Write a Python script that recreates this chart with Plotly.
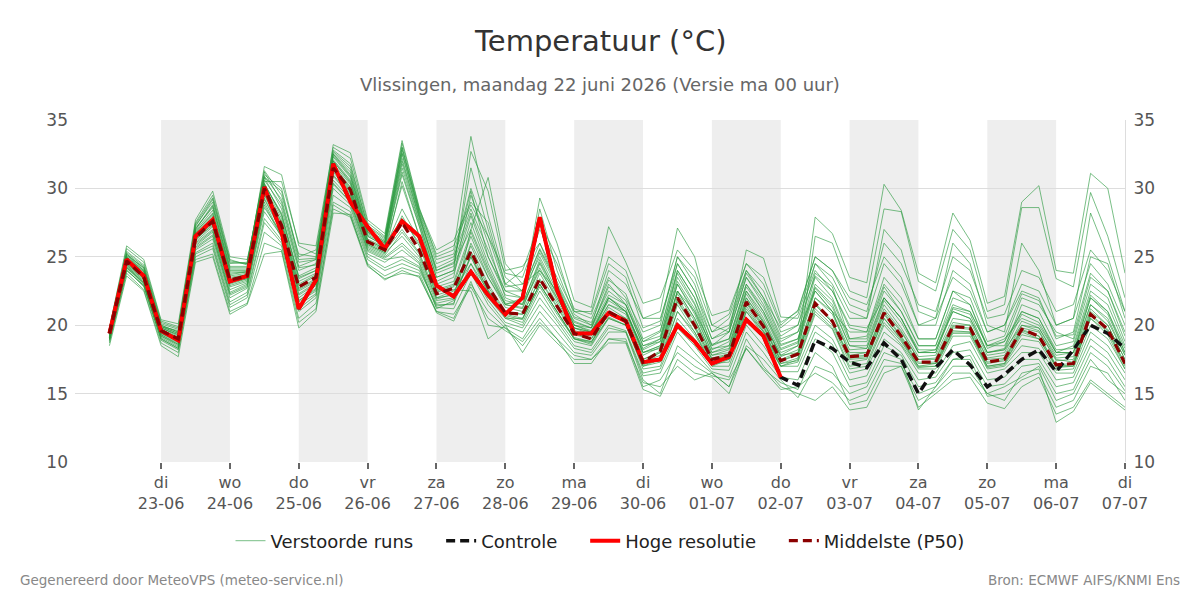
import pandas as pd
import plotly.graph_objects as go

# ---------------- data ----------------
times = pd.date_range("2026-06-22 06:00", "2026-07-07 00:00", freq="6h")  # 60 steps

hres = [19.4, 24.8, 23.6, 19.6, 18.9, 26.5, 27.7, 23.2, 23.6, 30.1,
        26.8, 21.2, 23.3, 31.8, 29.0, 27.2, 25.6, 27.6, 26.5, 22.9,
        22.1, 23.9, 22.2, 20.8, 22.0, 27.9, 22.6, 19.4, 19.4, 20.9,
        20.3, 17.3, 17.5, 20.0, 18.8, 17.2, 17.7, 20.4, 19.2, 16.2]

control = [19.4, 24.8, 23.6, 19.6, 18.9, 26.5, 27.7, 23.2, 23.6, 30.1,
           26.8, 21.2, 23.3, 31.8, 29.0, 27.2, 25.6, 27.6, 26.5, 22.9,
           22.1, 23.9, 22.2, 20.8, 22.0, 27.9, 22.6, 19.4, 19.4, 20.9,
           20.3, 17.3, 17.5, 20.0, 18.8, 17.2, 17.7, 20.4, 19.2, 16.2,
           15.6, 18.9, 18.3, 17.3, 16.9, 18.7, 17.5, 15.0, 16.9, 18.2,
           17.1, 15.5, 16.4, 17.5, 18.2, 16.6, 18.2, 20.0, 19.4, 18.3]

p50 = [19.4, 24.7, 23.5, 19.6, 19.0, 26.4, 27.6, 23.3, 23.6, 30.0,
       27.3, 22.8, 23.5, 31.5, 29.9, 26.1, 25.5, 27.5, 25.5, 22.3,
       22.7, 25.4, 22.8, 20.9, 20.8, 23.4, 21.4, 19.4, 19.0, 21.0,
       20.3, 17.3, 18.1, 22.0, 20.0, 17.5, 17.8, 21.7, 19.9, 17.4,
       17.9, 21.6, 20.3, 17.7, 17.8, 20.9, 19.2, 17.3, 17.3, 19.9,
       19.8, 17.3, 17.5, 19.7, 19.2, 17.1, 17.2, 20.8, 19.7, 17.2]

m01 = [19.6, 25.2, 24.1, 19.9, 19.4, 27.0, 28.8, 24.2, 24.2, 31.6, 31.0, 25.8, 25.2,
       32.5, 31.0, 26.8, 26.0, 32.5, 28.0, 24.0, 24.5,
       27.0, 24.0, 21.5, 21.2, 24.5, 22.0, 19.8, 19.5, 22.0, 21.0, 18.0,
       18.5, 23.0, 21.0, 18.0, 18.5, 22.5, 20.5, 18.0, 18.5, 27.9, 26.7,
       23.5, 23.1, 30.3, 28.4, 23.8, 23.1, 28.2, 26.2, 21.6, 22.1,
       29.0, 30.2, 24.0, 23.8, 31.1, 30.0, 23.8]
m02 = [19.1, 24.3, 23.0, 19.3, 18.6, 25.8, 26.8, 22.4, 23.0, 29.0, 26.5, 21.8, 22.6,
       31.0, 29.5, 25.8, 25.2, 30.5, 26.5, 22.0, 22.5,
       24.5, 22.5, 20.5, 20.5, 23.0, 21.0, 19.0, 18.8, 20.5, 20.0, 17.0,
       17.5, 21.5, 19.5, 17.0, 17.5, 21.0, 19.5, 17.0, 17.5, 26.5, 26.0,
       22.5, 22.0, 28.5, 28.3, 23.2, 22.5, 27.0, 25.5, 21.0, 21.5,
       28.6, 28.6, 23.4, 22.8, 29.7, 26.5, 22.0]
m03 = [19.8, 25.6, 24.6, 20.3, 19.9, 27.5, 29.5, 24.8, 24.4, 30.8, 29.8, 24.8, 24.9,
       33.2, 32.6, 27.7, 26.7, 33.5, 28.6, 25.0, 25.5,
       33.8, 28.0, 23.5, 22.5, 25.5, 23.0, 20.5, 20.0, 22.5, 21.5, 18.5,
       19.0, 24.0, 22.0, 18.5, 19.0, 23.0, 21.0, 18.5, 19.0, 23.5, 22.0,
       19.0, 19.0, 22.5, 21.0, 18.5, 18.5, 21.5, 21.0, 18.5, 18.8,
       21.0, 20.5, 18.0, 18.5, 22.5, 21.5, 18.5]
m04 = [18.8, 24.0, 22.9, 18.9, 18.2, 25.2, 25.8, 21.5, 22.2, 27.5, 26.0, 21.0, 22.0,
       29.0, 28.3, 24.8, 24.0, 24.5, 24.0, 21.5, 21.5,
       27.0, 30.8, 24.5, 23.0, 24.0, 22.5, 20.0, 19.5, 21.5, 21.0, 18.0,
       18.5, 22.5, 20.5, 17.8, 18.0, 22.0, 20.2, 17.8, 18.0, 22.0, 21.0,
       17.8, 18.0, 21.0, 19.5, 17.5, 17.5, 20.0, 20.0, 17.5, 17.6,
       19.8, 19.5, 17.5, 17.3, 21.0, 20.0, 17.5]
m05 = [19.5, 24.9, 23.8, 19.8, 19.3, 26.8, 28.2, 23.9, 23.9, 30.4, 28.0, 23.5, 24.0,
       32.0, 30.5, 26.5, 25.8, 31.5, 27.5, 23.5, 24.0,
       32.7, 29.8, 24.0, 24.3, 26.0, 23.5, 21.0, 20.5, 23.5, 22.0, 19.5,
       20.0, 25.0, 23.0, 19.5, 20.0, 24.0, 22.5, 19.5, 20.0, 24.5, 23.5,
       21.0, 20.5, 27.0, 25.5, 21.0, 20.5, 26.0, 24.5, 20.0, 19.5,
       26.0, 24.0, 20.0, 20.5, 28.2, 25.0, 21.0]
m06 = [19.2, 24.5, 23.3, 19.4, 18.8, 26.1, 27.2, 22.9, 23.3, 29.5, 27.0, 22.3, 23.1,
       31.2, 29.6, 25.9, 25.3, 26.5, 25.0, 22.0, 22.2,
       26.0, 23.5, 21.5, 22.0, 29.3, 26.0, 21.8, 21.3, 27.2, 24.6, 21.6,
       22.0, 25.5, 24.0, 20.7, 21.1, 24.5, 23.0, 20.0, 21.1, 25.0, 24.0,
       22.0, 21.5, 25.0, 23.5, 20.0, 20.5, 23.5, 22.5, 19.5, 20.0,
       22.5, 22.0, 19.0, 19.5, 25.0, 24.5, 20.5]
m07 = [19.7, 25.3, 24.3, 20.1, 19.7, 27.3, 29.0, 24.5, 24.6, 31.0, 30.0, 25.0, 25.5,
       32.8, 31.8, 27.2, 26.3, 33.0, 28.2, 24.5, 25.0,
       28.5, 25.5, 22.5, 22.0, 28.5, 24.0, 20.8, 20.0, 24.0, 23.0, 20.5,
       21.0, 27.1, 25.0, 20.0, 19.5, 23.5, 21.5, 18.8, 19.5, 22.5, 21.0,
       19.5, 19.5, 23.5, 22.0, 19.0, 19.0, 22.5, 21.5, 18.5, 19.0,
       20.5, 20.0, 18.0, 18.0, 22.0, 21.0, 18.0]
m08 = [19.0, 24.2, 23.0, 19.1, 18.4, 25.5, 26.3, 22.0, 22.7, 28.3, 26.5, 21.5, 22.3,
       30.0, 28.8, 25.2, 24.6, 25.5, 24.5, 21.2, 21.8,
       25.2, 22.5, 20.8, 20.5, 23.0, 21.0, 19.0, 18.7, 21.0, 20.5, 17.5,
       18.0, 22.5, 21.0, 18.5, 19.5, 25.5, 24.9, 20.6, 20.5, 24.0, 22.5,
       20.0, 19.8, 22.0, 20.5, 18.0, 18.2, 21.0, 20.5, 18.0, 18.2,
       20.0, 19.8, 17.8, 18.0, 21.5, 20.5, 17.8]
m09 = [18.9, 24.1, 22.8, 19.0, 18.3, 25.0, 25.6, 21.3, 22.0, 26.8, 25.8, 20.5, 21.6,
       28.5, 27.9, 24.3, 23.4, 23.8, 23.6, 20.9, 20.3,
       23.0, 21.0, 19.8, 19.0, 21.0, 19.5, 18.0, 17.8, 19.5, 19.5, 16.0,
       15.0, 18.5, 17.5, 16.5, 15.5, 19.0, 17.0, 15.5, 15.0, 14.5, 15.5,
       13.8, 14.0, 16.5, 17.0, 14.0, 15.0, 16.0, 16.2, 14.3, 13.9,
       15.5, 16.2, 13.5, 14.0, 16.0, 15.0, 14.0]
m10 = [19.4, 24.8, 23.7, 19.7, 19.1, 26.6, 27.9, 23.6, 23.8, 30.2, 27.8, 23.2, 23.8,
       31.8, 30.3, 26.3, 25.7, 31.0, 27.2, 23.0, 23.5,
       29.5, 26.0, 22.0, 21.5, 24.0, 22.0, 19.8, 19.3, 22.0, 21.2, 18.0,
       18.3, 22.3, 20.3, 17.6, 17.9, 21.8, 20.0, 17.5, 18.0, 21.5, 20.2,
       17.5, 17.6, 20.5, 19.0, 17.0, 17.2, 19.5, 19.5, 17.0, 17.2,
       19.5, 19.0, 17.0, 17.0, 20.5, 19.5, 17.0]
m11 = [19.3, 24.6, 23.4, 19.5, 18.9, 26.2, 27.4, 23.1, 23.4, 29.7, 27.0, 22.5, 23.2,
       31.4, 29.8, 26.0, 25.4, 27.0, 25.3, 22.2, 22.6,
       22.5, 19.0, 20.0, 18.0, 20.0, 18.7, 17.5, 17.5, 18.7, 18.7, 15.3,
       14.8, 17.5, 16.5, 16.2, 15.0, 18.5, 17.5, 16.0, 14.7, 17.0, 16.5,
       15.0, 15.5, 18.0, 17.5, 13.8, 15.5, 17.0, 17.0, 15.0, 14.5,
       16.5, 16.8, 12.9, 13.7, 15.8, 14.8, 13.8]
m12 = [19.6, 25.0, 24.0, 20.0, 19.5, 27.1, 28.6, 24.1, 24.1, 30.8, 28.5, 24.0, 24.5,
       32.3, 30.8, 26.7, 26.0, 32.2, 27.8, 23.8, 24.3,
       31.5, 27.0, 23.0, 22.5, 25.0, 22.5, 20.3, 19.8, 22.2, 21.5, 18.5,
       18.8, 23.5, 21.5, 18.2, 18.8, 22.8, 21.0, 18.3, 18.8, 22.8, 21.5,
       18.5, 18.3, 21.8, 20.2, 18.0, 18.0, 21.0, 20.5, 18.0, 18.3,
       21.5, 21.0, 18.5, 18.8, 23.0, 22.0, 18.8]
m13 = [19.1, 24.4, 23.1, 19.2, 18.5, 25.7, 26.6, 22.2, 22.8, 28.6, 26.7, 21.8, 22.7,
       30.3, 29.0, 25.4, 24.8, 25.0, 24.3, 21.4, 21.6,
       24.5, 22.0, 20.5, 20.0, 22.5, 20.5, 18.8, 18.5, 20.5, 20.0, 16.8,
       17.0, 20.5, 19.0, 17.0, 17.0, 20.5, 19.0, 17.0, 17.0, 20.0, 19.0,
       16.5, 16.8, 19.5, 18.5, 16.5, 16.5, 18.5, 18.8, 16.5, 16.8,
       18.0, 18.0, 16.0, 16.2, 19.0, 18.0, 16.0]
m14 = [19.5, 25.1, 24.2, 19.9, 19.6, 27.2, 29.2, 24.6, 24.5, 31.2, 29.0, 24.3, 24.8,
       32.6, 31.4, 27.0, 26.2, 32.8, 28.3, 24.8, 25.2,
       30.0, 26.5, 22.8, 23.0, 26.0, 23.0, 20.0, 19.8, 23.0, 21.5, 18.8,
       19.5, 24.5, 22.5, 19.0, 19.5, 23.5, 21.8, 19.0, 19.5, 23.8, 22.8,
       19.0, 19.2, 22.8, 21.0, 18.5, 18.5, 22.0, 21.5, 18.3, 18.8,
       22.0, 21.5, 19.5, 19.0, 23.5, 22.5, 19.2]
m15 = [18.7, 23.8, 22.6, 18.7, 18.0, 24.8, 25.2, 21.0, 21.6, 26.0, 25.5, 20.2, 21.2,
       28.8, 28.0, 24.5, 23.6, 24.2, 23.8, 21.0, 20.8,
       22.8, 20.5, 19.6, 18.8, 20.5, 19.0, 17.8, 17.5, 19.0, 19.0, 15.5,
       16.0, 18.0, 17.0, 16.3, 16.0, 18.3, 16.7, 15.3, 15.5, 16.5, 15.8,
       14.5, 15.0, 17.5, 17.2, 15.0, 15.5, 17.5, 17.5, 14.8, 15.0,
       16.0, 16.5, 14.0, 14.5, 17.0, 16.5, 14.5]
m16 = [19.3, 24.7, 23.6, 19.6, 19.0, 26.5, 27.7, 23.4, 23.7, 30.1, 27.5, 22.9, 23.6,
       31.6, 30.0, 26.2, 25.6, 28.5, 26.2, 22.6, 23.0,
       26.5, 23.5, 21.3, 21.0, 23.8, 21.6, 19.5, 19.2, 21.3, 20.5, 17.5,
       18.1, 22.0, 20.0, 17.5, 17.8, 21.7, 19.9, 17.4, 17.9, 21.6, 20.3,
       17.7, 17.8, 20.9, 19.2, 17.3, 17.3, 19.9, 19.8, 17.3, 17.5,
       19.7, 19.2, 17.1, 17.2, 20.8, 19.7, 17.2]
m17 = [19.8, 25.8, 24.8, 20.4, 20.1, 27.7, 29.8, 25.0, 24.8, 30.5, 30.5, 26.0, 25.8,
       33.0, 32.2, 27.5, 26.5, 33.3, 28.5, 25.5, 26.2,
       29.0, 27.5, 23.0, 24.0, 27.5, 25.0, 21.0, 21.0, 25.0, 24.0, 20.5,
       20.5, 24.5, 22.5, 19.5, 20.5, 24.0, 22.0, 19.8, 20.8, 24.5, 23.0,
       20.5, 20.5, 24.5, 23.0, 20.0, 20.0, 24.0, 23.0, 19.5, 20.0,
       23.0, 22.5, 20.0, 20.5, 24.5, 23.0, 20.0]
m18 = [19.0, 24.3, 23.2, 19.3, 18.7, 25.9, 26.9, 22.6, 23.1, 29.2, 26.8, 22.0, 22.9,
       30.6, 29.2, 25.6, 25.0, 26.0, 24.8, 21.8, 22.0,
       25.0, 22.3, 20.6, 20.2, 22.8, 20.8, 19.0, 18.6, 20.6, 20.0, 17.0,
       17.3, 21.0, 19.3, 17.2, 17.3, 21.0, 19.3, 17.0, 17.3, 20.8, 19.7,
       16.8, 17.0, 20.0, 18.6, 16.8, 16.8, 19.2, 19.2, 16.8, 17.0,
       18.5, 18.3, 16.5, 16.5, 19.5, 18.5, 16.5]
m19 = [19.4, 24.9, 23.9, 19.8, 19.2, 26.7, 28.0, 23.7, 23.9, 30.3, 28.2, 23.6, 24.2,
       32.1, 30.6, 26.6, 25.9, 31.8, 27.6, 23.5, 24.0,
       28.0, 24.5, 21.8, 21.5, 24.8, 22.2, 19.8, 19.5, 21.8, 21.0, 18.2,
       18.8, 23.0, 20.8, 18.0, 18.3, 22.3, 20.3, 17.8, 18.5, 22.5, 21.0,
       18.2, 18.3, 21.5, 19.8, 17.7, 17.8, 20.5, 20.3, 17.8, 18.0,
       20.3, 19.8, 17.6, 17.7, 21.5, 20.3, 17.8]
m20 = [19.2, 24.6, 23.4, 19.5, 18.9, 26.3, 27.3, 23.0, 23.4, 29.6, 27.2, 22.6, 23.3,
       31.3, 29.7, 25.9, 25.3, 28.0, 25.8, 22.4, 22.8,
       25.8, 23.0, 21.0, 20.8, 23.3, 21.3, 19.3, 19.0, 21.0, 20.3, 17.3,
       17.8, 21.7, 19.8, 17.3, 17.6, 21.4, 19.6, 17.2, 17.6, 21.2, 20.0,
       17.3, 17.5, 20.5, 18.9, 17.0, 17.0, 19.6, 19.5, 17.0, 17.2,
       19.3, 19.0, 16.9, 17.0, 20.5, 19.3, 16.8]
m21 = [18.5, 23.6, 22.5, 18.5, 17.7, 24.6, 25.0, 20.8, 21.5, 25.2, 25.4, 19.8, 21.0,
       28.2, 28.1, 24.4, 23.3, 24.0, 23.5, 21.0, 20.5,
       23.2, 20.0, 19.8, 18.5, 20.2, 19.0, 17.2, 17.2, 19.0, 18.8, 15.8,
       15.5, 17.0, 16.0, 16.5, 15.5, 18.3, 16.8, 15.8, 15.3, 18.0, 17.0,
       14.2, 14.5, 17.0, 17.0, 14.5, 15.2, 16.5, 16.5, 15.0, 15.5,
       16.2, 17.0, 14.5, 15.0, 17.5, 16.0, 15.0]
m22 = [19.6, 25.1, 24.0, 19.9, 19.4, 26.9, 28.4, 24.0, 24.0, 30.6, 28.8, 24.2, 24.4,
       32.4, 30.9, 26.8, 26.1, 32.0, 27.9, 24.2, 24.8,
       29.8, 25.0, 22.2, 22.0, 25.3, 22.8, 20.2, 19.8, 22.8, 21.8, 18.8,
       19.2, 23.8, 21.6, 18.6, 19.0, 23.0, 21.3, 18.6, 19.0, 23.0, 21.8,
       18.8, 18.8, 22.0, 20.5, 18.2, 18.2, 21.3, 21.0, 18.5, 18.5,
       21.0, 20.5, 18.2, 18.3, 22.2, 21.0, 18.3]
m23 = [19.3, 24.5, 23.5, 19.6, 19.0, 26.3, 27.5, 23.2, 23.5, 29.8, 27.4, 22.7, 23.4,
       31.5, 29.9, 26.1, 25.5, 27.8, 26.0, 22.5, 22.9,
       25.4, 22.8, 20.9, 20.8, 23.4, 21.4, 19.4, 19.0, 21.0, 20.3, 17.3,
       18.0, 21.8, 19.9, 17.5, 17.8, 21.6, 19.8, 17.4, 17.8, 21.5, 20.2,
       17.6, 17.7, 20.8, 19.1, 17.2, 17.2, 19.8, 19.7, 17.2, 17.4,
       19.6, 19.2, 17.0, 17.1, 20.7, 19.6, 17.1]
m24 = [19.0, 24.2, 23.1, 19.2, 18.6, 25.6, 26.5, 22.3, 22.9, 28.8, 26.4, 21.7, 22.5,
       30.4, 29.0, 25.5, 24.9, 25.8, 24.6, 21.6, 21.9,
       24.0, 21.8, 20.2, 19.8, 22.0, 20.3, 18.5, 18.2, 20.0, 19.6, 16.5,
       16.8, 19.8, 18.5, 16.8, 16.7, 20.0, 18.5, 16.6, 16.6, 19.5, 18.6,
       16.0, 16.3, 19.0, 18.0, 16.0, 16.2, 18.0, 18.2, 16.0, 16.2,
       17.5, 17.5, 15.5, 15.8, 18.5, 17.5, 15.5]
m25 = [19.7, 25.4, 24.4, 20.2, 19.8, 27.4, 29.3, 24.7, 24.5, 31.3, 29.5, 25.2, 25.0,
       32.7, 31.6, 27.3, 26.4, 33.0, 28.4, 25.2, 25.8,
       28.8, 26.5, 23.8, 23.5, 27.0, 24.5, 21.2, 20.8, 24.5, 23.5, 19.8,
       20.3, 25.0, 23.5, 20.0, 20.8, 24.5, 23.5, 20.2, 21.0, 25.0, 24.0,
       21.5, 21.0, 26.0, 24.5, 21.5, 21.0, 25.0, 24.0, 20.5, 20.8,
       24.0, 23.5, 21.0, 21.5, 25.5, 24.0, 21.0]
m26 = [19.4, 24.8, 23.6, 19.7, 19.1, 26.5, 27.8, 23.5, 23.7, 30.0, 27.6, 23.0, 23.7,
       31.7, 30.1, 26.2, 25.6, 30.2, 26.5, 22.8, 23.2,
       26.8, 23.8, 21.5, 21.3, 24.2, 21.8, 19.6, 19.3, 21.5, 20.8, 17.8,
       18.4, 22.5, 20.5, 17.8, 18.2, 22.0, 20.2, 17.7, 18.2, 22.0, 20.8,
       18.0, 18.0, 21.2, 19.6, 17.5, 17.6, 20.2, 20.0, 17.6, 17.8,
       20.0, 19.6, 17.4, 17.5, 21.2, 20.0, 17.5]
m27 = [19.1, 24.4, 23.3, 19.4, 18.8, 26.0, 27.0, 22.8, 23.2, 29.3, 26.9, 22.2, 23.0,
       30.9, 29.4, 25.7, 25.1, 26.8, 25.2, 21.9, 22.3,
       25.0, 22.6, 20.7, 20.4, 23.0, 21.0, 19.1, 18.8, 20.8, 20.2, 17.1,
       17.5, 21.0, 19.5, 17.3, 17.5, 21.2, 19.5, 17.2, 17.4, 21.0, 19.8,
       17.0, 17.2, 20.2, 18.8, 16.9, 17.0, 19.4, 19.4, 16.9, 17.1,
       19.0, 18.8, 16.7, 16.8, 20.0, 19.0, 16.8]
m28 = [19.5, 25.0, 23.9, 19.8, 19.3, 26.8, 28.1, 23.8, 23.9, 30.3, 28.1, 23.4, 24.0,
       32.0, 30.4, 26.5, 25.8, 31.2, 27.3, 23.2, 23.8,
       27.5, 24.2, 21.6, 21.6, 24.6, 22.3, 20.0, 19.6, 22.0, 21.0, 18.3,
       19.0, 23.2, 21.2, 18.3, 18.5, 22.5, 20.8, 18.2, 18.7, 22.7, 21.3,
       18.5, 18.5, 22.0, 20.5, 18.0, 18.0, 21.2, 20.8, 18.0, 18.2,
       20.8, 20.2, 18.0, 18.0, 22.0, 20.8, 18.0]
m29 = [18.9, 24.0, 22.9, 19.0, 18.3, 25.3, 26.0, 21.7, 22.4, 27.8, 26.2, 21.2, 22.2,
       29.5, 28.6, 25.0, 24.2, 24.8, 24.2, 21.3, 21.2,
       23.8, 21.5, 20.0, 19.5, 21.5, 20.0, 18.3, 18.0, 19.8, 19.5, 16.3,
       16.5, 19.5, 18.0, 16.6, 16.2, 19.5, 18.0, 16.2, 16.0, 19.0, 18.0,
       15.5, 15.8, 18.5, 17.8, 15.5, 15.8, 17.5, 17.8, 15.5, 15.7,
       17.0, 17.2, 15.0, 15.3, 18.0, 17.0, 15.2]
m30 = [19.6, 25.2, 24.2, 20.0, 19.5, 27.0, 28.7, 24.3, 24.3, 30.9, 29.2, 24.6, 24.8,
       32.5, 31.2, 26.9, 26.1, 32.6, 28.1, 24.0, 24.6,
       28.2, 25.0, 22.5, 22.5, 25.6, 23.2, 20.6, 20.2, 23.3, 22.3, 19.0,
       19.6, 24.0, 22.0, 19.0, 19.8, 23.8, 22.0, 19.2, 20.0, 23.6, 22.5,
       19.8, 19.5, 23.0, 21.5, 19.0, 19.0, 22.5, 22.0, 18.8, 19.2,
       22.3, 21.8, 19.2, 19.3, 23.8, 22.5, 19.5]

members = [m01, m02, m03, m04, m05, m06, m07, m08, m09, m10,
           m11, m12, m13, m14, m15, m16, m17, m18, m19, m20,
           m21, m22, m23, m24, m25, m26, m27, m28, m29, m30]

tick_dates = pd.date_range("2026-06-23", "2026-07-07", freq="D")
day_abbr = ["di", "wo", "do", "vr", "za", "zo", "ma", "di", "wo", "do", "vr", "za", "zo", "ma", "di"]
day_label = ["23-06", "24-06", "25-06", "26-06", "27-06", "28-06", "29-06", "30-06",
             "01-07", "02-07", "03-07", "04-07", "05-07", "06-07", "07-07"]
shaded_days = ["2026-06-23", "2026-06-25", "2026-06-27", "2026-06-29",
               "2026-07-01", "2026-07-03", "2026-07-05"]

title_text = "Temperatuur (°C)"
subtitle_text = "Vlissingen, maandag 22 juni 2026 (Versie ma 00 uur)"
footer_left = "Gegenereerd door MeteoVPS (meteo-service.nl)"
footer_right = "Bron: ECMWF AIFS/KNMI Ens"
legend_names = ["Verstoorde runs", "Controle", "Hoge resolutie", "Middelste (P50)"]

# ---------------- figure ----------------
FONT = "DejaVu Sans"
PAD = "\u00a0" * 4
fig = go.Figure()

for k, m in enumerate(members):
    fig.add_trace(go.Scatter(
        x=times, y=m, mode="lines", name=legend_names[0] + PAD,
        legendgroup="ens", showlegend=(k == 0),
        line=dict(color="rgba(38,152,60,0.62)", width=1), hoverinfo="skip"))

fig.add_trace(go.Scatter(x=times, y=control, mode="lines", name=legend_names[1] + PAD,
                         line=dict(color="#111111", width=3.5, dash="9px,5px")))
fig.add_trace(go.Scatter(x=times[:len(hres)], y=hres, mode="lines", name=legend_names[2] + PAD,
                         line=dict(color="#ff0000", width=4)))
fig.add_trace(go.Scatter(x=times, y=p50, mode="lines", name=legend_names[3],
                         line=dict(color="#8b0000", width=3.2, dash="9px,5px")))
# helper so the right-hand axis is drawn
fig.add_trace(go.Scatter(x=[times[0]], y=[20], yaxis="y2", mode="markers",
                         marker=dict(opacity=0), showlegend=False, hoverinfo="skip"))

shapes = []
for d in shaded_days:
    start = pd.Timestamp(d)
    shapes.append(dict(type="rect", xref="x", yref="paper",
                       x0=start, x1=start + pd.Timedelta(days=1), y0=0, y1=1,
                       fillcolor="#eeeeee", line=dict(width=0), layer="below"))

ticktext = [f"{a}<br>{b}" for a, b in zip(day_abbr, day_label)]

fig.update_layout(
    width=1200, height=600,
    paper_bgcolor="white", plot_bgcolor="white",
    margin=dict(l=75, r=75, t=120, b=138),
    font=dict(family=FONT, color="#444"),
    shapes=shapes,
    showlegend=True,
    legend=dict(orientation="h", x=0.5, xanchor="center", y=-0.231, yanchor="middle",
                font=dict(size=18, color="#222", family=FONT), bgcolor="rgba(0,0,0,0)",
                itemwidth=30),
    xaxis=dict(range=[pd.Timestamp("2026-06-21 18:00"), pd.Timestamp("2026-07-07 00:00")],
               tickvals=list(tick_dates), ticktext=ticktext,
               ticks="outside", ticklen=6, tickwidth=2, tickcolor="#666",
               tickfont=dict(size=16, color="#555", family=FONT),
               showgrid=False, zeroline=False, showline=False),
    yaxis=dict(range=[10, 35], dtick=5, tick0=10, gridcolor="#dddddd", gridwidth=1,
               tickfont=dict(size=17, color="#555", family=FONT),
               zeroline=False, showline=False, ticks="", ticklabelstandoff=6),
    yaxis2=dict(range=[10, 35], dtick=5, tick0=10, overlaying="y", side="right",
                showgrid=False, zeroline=False, showline=True, linecolor="#dddddd",
                tickfont=dict(size=17, color="#555", family=FONT), ticks="",
                ticklabelstandoff=4),
    annotations=[
        dict(text=title_text, xref="paper", yref="paper", x=0.5, y=1.231,
             xanchor="center", yanchor="middle", showarrow=False,
             font=dict(size=29, color="#333", family=FONT)),
        dict(text=subtitle_text, xref="paper", yref="paper", x=0.5, y=1.105,
             xanchor="center", yanchor="middle", showarrow=False,
             font=dict(size=18, color="#666", family=FONT)),
        dict(text=footer_left, xref="paper", yref="paper", x=-0.0543, y=-0.345,
             xanchor="left", yanchor="middle", showarrow=False,
             font=dict(size=13.5, color="#888", family=FONT)),
        dict(text=footer_right, xref="paper", yref="paper", x=1.0543, y=-0.345,
             xanchor="right", yanchor="middle", showarrow=False,
             font=dict(size=13.5, color="#888", family=FONT)),
    ],
)

fig.write_html("out.html")
